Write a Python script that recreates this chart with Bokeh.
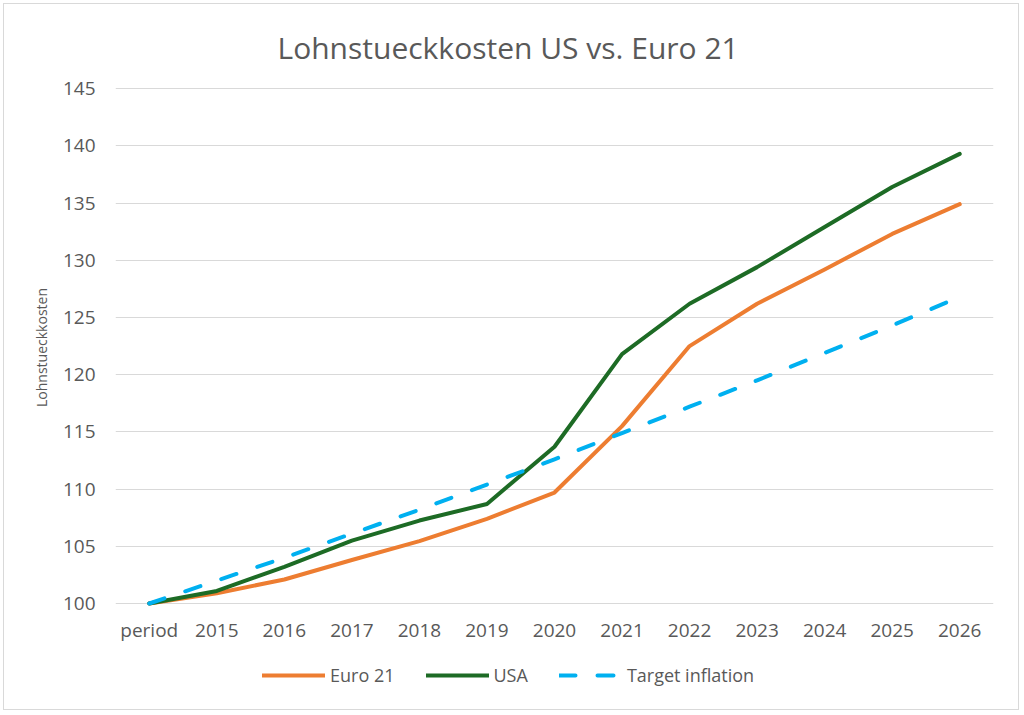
from bokeh.plotting import figure
from bokeh.models import FactorRange, Range1d, FixedTicker, Legend, LegendItem
from bokeh.layouts import column
from bokeh.embed import file_html
from bokeh.resources import INLINE

categories = ["period", "2015", "2016", "2017", "2018", "2019", "2020",
              "2021", "2022", "2023", "2024", "2025", "2026"]
euro21 = [100.0, 100.9, 102.1, 103.8, 105.45, 107.4, 109.7,
          115.5, 122.5, 126.2, 129.2, 132.3, 134.9]
usa = [100.0, 101.1, 103.2, 105.5, 107.25, 108.7, 113.7,
       121.8, 126.2, 129.4, 132.9, 136.4, 139.3]
target = [100.0, 102.0, 104.0, 106.1, 108.2, 110.4, 112.6,
          114.9, 117.2, 119.5, 121.9, 124.3, 126.8]
y_ticks = [100, 105, 110, 115, 120, 125, 130, 135, 140, 145]
series_names = ["Euro 21", "USA", "Target inflation"]

TEXT = "#595959"
FONT = "Open Sans"
COLORS = ["#ED7D31", "#1D6B25", "#00B0F0"]
DASHES = ["solid", "solid", "16 22"]
SERIES = [euro21, usa, target]

p = figure(x_range=FactorRange(*categories, range_padding=0),
           y_range=Range1d(99.65, 145.1),
           frame_width=878, frame_height=520,
           min_border_left=111, min_border_right=25,
           min_border_top=83, min_border_bottom=40,
           output_backend="svg", toolbar_location=None,
           title="Lohnstueckkosten US vs. Euro 21")

p.title.text_font = FONT
p.title.text_font_size = "30px"
p.title.text_font_style = "normal"
p.title.text_color = TEXT
p.title.text_line_height = 1.0
p.title.align = "left"
p.title.offset = 162
p.title.standoff = 40

for vals, col, dash in zip(SERIES, COLORS, DASHES):
    p.line(categories, vals, line_color=col, line_width=4,
           line_dash=dash, line_join="round", line_cap="round")

p.xgrid.grid_line_color = None
p.ygrid.grid_line_color = "#D9D9D9"
p.ygrid.grid_line_width = 1
p.yaxis.ticker = FixedTicker(ticks=y_ticks)

for ax in (p.xaxis[0], p.yaxis[0]):
    ax.axis_line_color = None
    ax.major_tick_line_color = None
    ax.minor_tick_line_color = None
    ax.major_tick_out = 0
    ax.major_label_text_font = FONT
    ax.major_label_text_font_size = "19px"
    ax.major_label_text_color = TEXT

p.xaxis.major_label_standoff = 9
p.yaxis.major_label_standoff = 20
p.yaxis.axis_label = "Lohnstueckkosten"
p.yaxis.axis_label_text_font = FONT
p.yaxis.axis_label_text_font_size = "14px"
p.yaxis.axis_label_text_font_style = "normal"
p.yaxis.axis_label_text_color = TEXT
p.yaxis.axis_label_standoff = 9
p.outline_line_color = None

# legend strip below the chart (series drawn out of view, only the legend shows)
lg = figure(width=1014, height=62,
            x_range=FactorRange(*categories, range_padding=0),
            y_range=Range1d(0, 1),
            min_border=0, x_axis_location=None, y_axis_location=None,
            output_backend="svg", toolbar_location=None)
lg.grid.grid_line_color = None
lg.outline_line_color = None
items = []
for name, vals, col, dash in zip(series_names, SERIES, COLORS, DASHES):
    r = lg.line(categories, vals, line_color=col, line_width=4,
                line_dash=dash, line_cap="round")
    items.append(LegendItem(label=name, renderers=[r]))

legend = Legend(items=items, orientation="horizontal", location=(147, 22),
                glyph_width=63, glyph_height=20, label_standoff=5, spacing=31,
                padding=0, margin=0,
                border_line_color=None, background_fill_alpha=0,
                label_text_font=FONT, label_text_font_size="18px",
                label_text_color=TEXT)
lg.add_layout(legend, "center")

layout = column(p, lg, spacing=0)
layout.styles = {"margin": "3px", "border": "1px solid #D9D9D9"}

open("out.html", "w").write(file_html(layout, INLINE))
